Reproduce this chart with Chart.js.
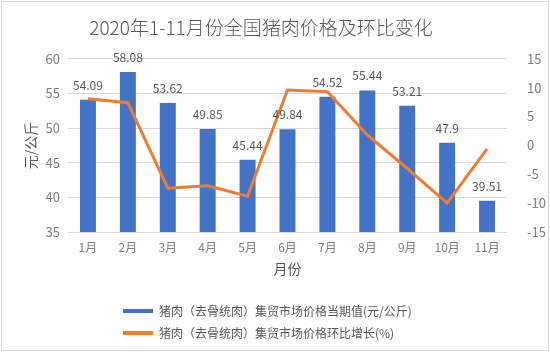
<!DOCTYPE html>
<html><head><meta charset="utf-8">
<script src="https://cdn.jsdelivr.net/npm/chart.js@4/dist/chart.umd.min.js"></script>
<style>html,body{margin:0;padding:0;background:#fff;}#wrap{width:550px;height:352px;position:relative;}</style>
</head><body><div id="wrap"><canvas id="c" width="550" height="352"></canvas></div>
<script>
const categories = ['1月','2月','3月','4月','5月','6月','7月','8月','9月','10月','11月'];
const priceValues = [54.09, 58.08, 53.62, 49.85, 45.44, 49.84, 54.52, 55.44, 53.21, 47.9, 39.51];
const momValues = [8.1, 7.4, -7.4, -7.0, -8.8, 9.6, 9.3, 1.8, -4.0, -10.0, -0.6];
const leftTicks = [35, 60, 5];
const rightTicks = [-15, 15, 5];
const seriesNames = ['猪肉（去骨统肉）集贸市场价格当期值(元/公斤)', '猪肉（去骨统肉）集贸市场价格环比增长(%)'];
const chartTitle = '2020年1-11月份全国猪肉价格及环比变化';

const FONT = "'Noto Sans CJK SC', 'Noto Sans', sans-serif";
const barLabels = {
  id: 'barLabels',
  afterDatasetsDraw(chart) {
    const ctx = chart.ctx;
    const meta = chart.getDatasetMeta(0);
    ctx.save();
    ctx.font = '12px ' + FONT;
    ctx.fillStyle = '#595959';
    ctx.textAlign = 'center';
    ctx.textBaseline = 'alphabetic';
    meta.data.forEach((el, i) => {
      ctx.fillText(String(priceValues[i]), el.x, el.y - 10);
    });
    ctx.restore();
  }
};
const frame = {
  id: 'frame',
  beforeDraw(chart) {
    // shift title and legend blocks horizontally like the original
    if (chart.titleBlock) { chart.titleBlock.left = 0; chart.titleBlock.right = 522; }
    if (chart.legend) { chart.legend.left = 113; }
  },
  afterDraw(chart) {
    const ctx = chart.ctx;
    ctx.save();
    ctx.strokeStyle = '#d9d9d9';
    ctx.lineWidth = 1;
    ctx.strokeRect(1.5, 1.5, 547, 349);
    ctx.restore();
  }
};

new Chart(document.getElementById('c'), {
  type: 'bar',
  data: {
    labels: categories,
    datasets: [
      { type: 'bar', label: seriesNames[0], data: priceValues, backgroundColor: '#4472C4', borderWidth: 0,
        yAxisID: 'y', order: 2, categoryPercentage: 1.0, barPercentage: 0.4 },
      { type: 'line', label: seriesNames[1], data: momValues, borderColor: '#ED7D31', backgroundColor: '#ED7D31',
        borderWidth: 3, pointRadius: 0, tension: 0, yAxisID: 'y1', order: 1 }
    ]
  },
  options: {
    responsive: false,
    animation: false,
    layout: { padding: { left: 22, right: 0, top: 0, bottom: 3 } },
    plugins: {
      tooltip: { enabled: false },
      title: { display: true, text: chartTitle, color: '#595959',
        font: { family: FONT, size: 19, weight: 300 }, padding: { top: 16, bottom: 20 } },
      legend: { position: 'bottom', align: 'start',
        labels: { color: '#595959', font: { family: FONT, size: 12 }, boxWidth: 30, boxHeight: 4, padding: 10,
          sort: (a, b) => a.datasetIndex - b.datasetIndex,
          generateLabels(chart) {
            return Chart.defaults.plugins.legend.labels.generateLabels(chart).map(l => Object.assign(l, { lineWidth: 0 }));
          } } }
    },
    scales: {
      x: {
        grid: { display: false, drawTicks: false }, border: { display: false },
        ticks: { color: '#7f7f7f', font: { family: FONT, size: 12 }, padding: 8 },
        title: { display: true, text: '月份', color: '#595959', font: { family: FONT, size: 14 }, padding: { top: 2, bottom: 18 } },
        afterFit(s) { s.height = 63; }
      },
      y: {
        position: 'left', min: leftTicks[0], max: leftTicks[1],
        ticks: { stepSize: leftTicks[2], color: '#7f7f7f', font: { family: FONT, size: 13 }, padding: 8 },
        grid: { color: '#d9d9d9', drawTicks: false }, border: { display: false },
        title: { display: true, text: '元/公斤', color: '#595959', font: { family: FONT, size: 14 }, padding: 0 },
        afterFit(s) { s.width = 46; }
      },
      y1: {
        position: 'right', min: rightTicks[0], max: rightTicks[1],
        ticks: { stepSize: rightTicks[2], color: '#7f7f7f', font: { family: FONT, size: 13 }, padding: 12 },
        grid: { display: false }, border: { display: false },
        afterFit(s) { s.width = 43; }
      }
    }
  },
  plugins: [barLabels, frame]
});
</script></body></html>
